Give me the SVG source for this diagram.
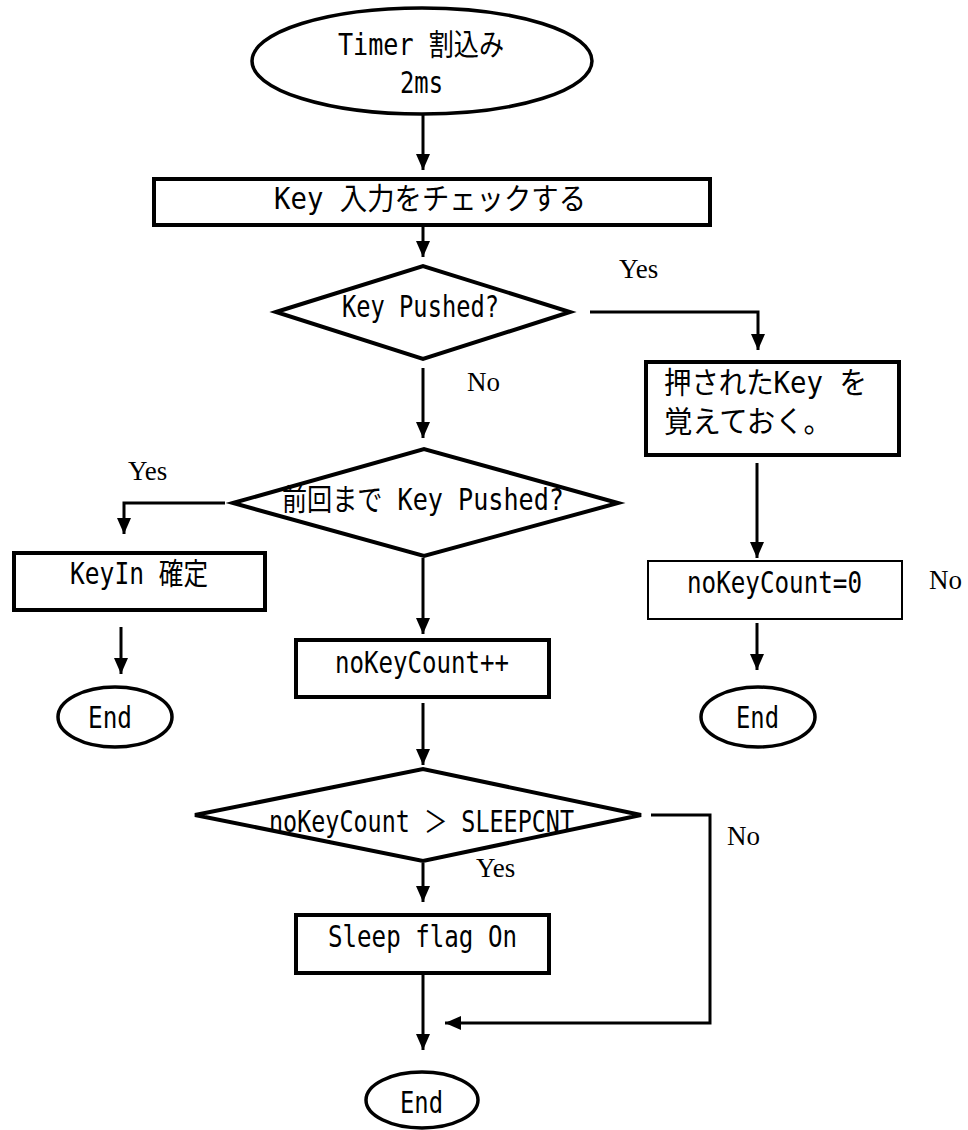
<svg xmlns="http://www.w3.org/2000/svg" width="968" height="1130" viewBox="0 0 968 1130">
<style>
.n{fill:#fff;stroke:#000;stroke-width:4}
.e{fill:#fff;stroke:#000;stroke-width:3.5}
.thin{stroke-width:2}
.t{font-family:"DejaVu Sans Mono","Noto Sans CJK JP",monospace;font-size:30px;fill:#000}
.l{font-family:"Liberation Serif","Times New Roman",serif;font-size:27px;fill:#000}
.c{fill:none;stroke:#000;stroke-width:3;marker-end:url(#ah)}
</style>
<defs>
<marker id="ah" markerUnits="userSpaceOnUse" markerWidth="18" markerHeight="16" viewBox="0 -8 17 16" refX="16" refY="0" orient="auto">
<path d="M0,-7 L16,0 L0,7 z" fill="#000"/>
</marker>
</defs>
<rect width="968" height="1130" fill="#fff"/>
<g id="connectors">
<path class="c" d="M423,115 V170"/>
<path class="c" d="M423,227 V257"/>
<path class="c" d="M590,312 H758 V350"/>
<path class="c" d="M423,368 V438"/>
<path class="c" d="M757,463 V558"/>
<path class="c" d="M757,623 V670"/>
<path class="c" d="M225,503 H124 V534"/>
<path class="c" d="M121,627 V674"/>
<path class="c" d="M423,558 V634"/>
<path class="c" d="M423,703 V765"/>
<path class="c" d="M423,863 V902"/>
<path class="c" d="M423,975 V1050"/>
<path class="c" d="M651,815 H710 V1023 H445"/>
</g>
<g id="start">
<ellipse class="e" cx="422" cy="61" rx="170" ry="53"/>
<text class="t" x="338" y="55" textLength="166" lengthAdjust="spacingAndGlyphs">Timer 割込み</text>
<text class="t" x="400" y="93" textLength="43" lengthAdjust="spacingAndGlyphs">2ms</text>
</g>
<g id="check">
<rect class="n" x="154" y="179" width="556" height="46"/>
<text class="t" x="274" y="209" textLength="312" lengthAdjust="spacingAndGlyphs">Key 入力をチェックする</text>
</g>
<g id="pushed">
<polygon class="n" points="276,312 423,266 570,312 423,359"/>
<text class="t" x="342" y="317" textLength="157" lengthAdjust="spacingAndGlyphs">Key Pushed?</text>
</g>
<g id="remember">
<rect class="n" x="646" y="362" width="253" height="93"/>
<text class="t" x="664" y="393" textLength="203" lengthAdjust="spacingAndGlyphs">押されたKey を</text>
<text class="t" x="664" y="432" textLength="168" lengthAdjust="spacingAndGlyphs">覚えておく。</text>
</g>
<g id="prev">
<polygon class="n" points="233,503 424,449 618,503 424,556"/>
<text class="t" x="282" y="510" textLength="282" lengthAdjust="spacingAndGlyphs">前回まで Key Pushed?</text>
</g>
<g id="keyin">
<rect class="n" x="14" y="553" width="251" height="57"/>
<text class="t" x="70" y="584" textLength="138" lengthAdjust="spacingAndGlyphs">KeyIn 確定</text>
</g>
<g id="reset">
<rect class="n thin" x="648" y="561" width="254" height="58"/>
<text class="t" x="687" y="593" textLength="175" lengthAdjust="spacingAndGlyphs">noKeyCount=0</text>
</g>
<g id="inc">
<rect class="n" x="296" y="640" width="253" height="57"/>
<text class="t" x="335" y="673" textLength="174" lengthAdjust="spacingAndGlyphs">noKeyCount++</text>
</g>
<g id="end1">
<ellipse class="e" cx="115" cy="717" rx="57" ry="30"/>
<text class="t" x="88" y="728" textLength="44" lengthAdjust="spacingAndGlyphs">End</text>
</g>
<g id="end2">
<ellipse class="e" cx="758" cy="717" rx="57" ry="30"/>
<text class="t" x="736" y="728" textLength="43" lengthAdjust="spacingAndGlyphs">End</text>
</g>
<g id="sleepcheck">
<polygon class="n" points="195,815 423,769 641,815 423,861"/>
<text class="t" x="269" y="832" textLength="305" lengthAdjust="spacingAndGlyphs">noKeyCount ＞ SLEEPCNT</text>
</g>
<g id="sleep">
<rect class="n" x="296" y="915" width="253" height="58"/>
<text class="t" x="328" y="947" textLength="189" lengthAdjust="spacingAndGlyphs">Sleep flag On</text>
</g>
<g id="end3">
<ellipse class="e" cx="422" cy="1100" rx="56" ry="28"/>
<text class="t" x="400" y="1113" textLength="43" lengthAdjust="spacingAndGlyphs">End</text>
</g>
<g id="labels">
<text class="l" x="619" y="278">Yes</text>
<text class="l" x="467" y="391">No</text>
<text class="l" x="128" y="480">Yes</text>
<text class="l" x="929" y="589">No</text>
<text class="l" x="727" y="845">No</text>
<text class="l" x="476" y="877">Yes</text>
</g>
</svg>
